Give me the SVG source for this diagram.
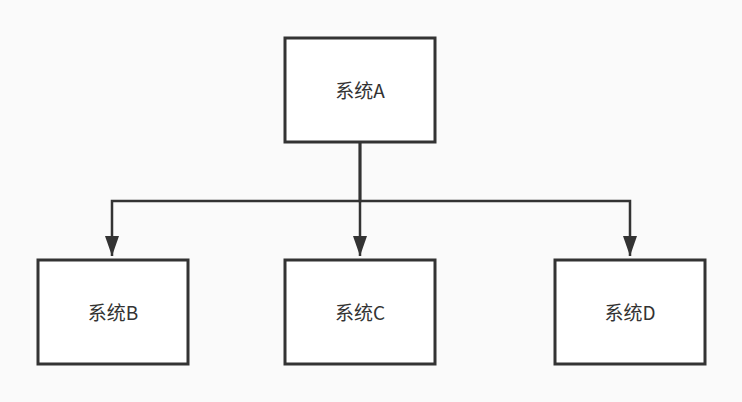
<svg xmlns="http://www.w3.org/2000/svg" width="742" height="402" viewBox="0 0 742 402">
<style>
.box{fill:#ffffff;stroke:#333333;stroke-width:3}
.lbl{font-family:"Microsoft YaHei","Noto Sans CJK SC","Noto Sans",sans-serif;font-size:19px;fill:#333333;text-anchor:middle;dominant-baseline:central}
.edge{fill:none;stroke:#333333;stroke-width:2.5}
</style>
<defs>
<marker id="arr" markerUnits="userSpaceOnUse" markerWidth="22" markerHeight="16" viewBox="0 0 22 16" refX="20" refY="8" orient="auto">
<path d="M20 8 L0 1 L0 15 Z" fill="#333333"/>
</marker>
</defs>
<rect width="742" height="402" fill="#fafafa"/>
<g id="connectors">
<path class="edge" d="M360 142 V201 H112 V256" marker-end="url(#arr)"/>
<path class="edge" d="M360 142 V256" marker-end="url(#arr)"/>
<path class="edge" d="M360 142 V201 H630 V256" marker-end="url(#arr)"/>
</g>
<g id="nodeA"><rect class="box" x="285" y="38" width="150" height="104"/><text class="lbl" x="360" y="89">系统A</text></g>
<g id="nodeB"><rect class="box" x="38" y="260" width="150" height="104"/><text class="lbl" x="113" y="311">系统B</text></g>
<g id="nodeC"><rect class="box" x="285" y="260" width="150" height="104"/><text class="lbl" x="360" y="311">系统C</text></g>
<g id="nodeD"><rect class="box" x="555" y="260" width="150" height="104"/><text class="lbl" x="630" y="311">系统D</text></g>
</svg>
